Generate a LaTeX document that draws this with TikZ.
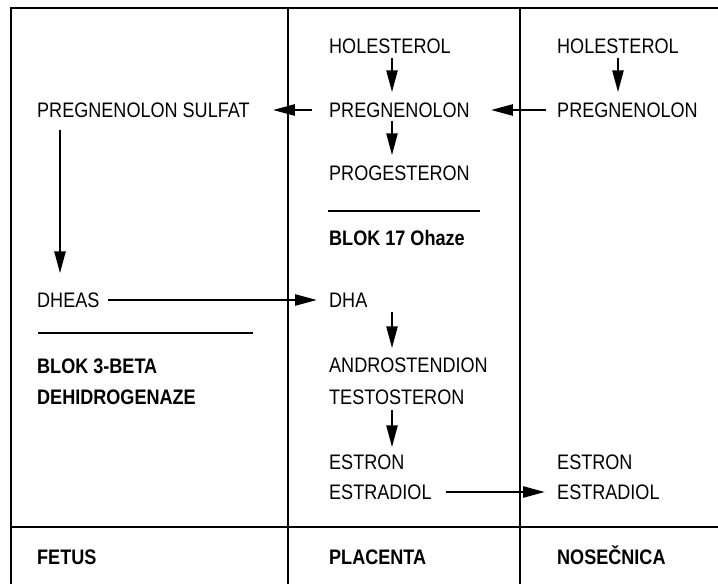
\documentclass[tikz,border=0pt]{standalone}
\usepackage{fontspec}
\setmainfont{Liberation Sans}[FakeStretch=0.86]
\usetikzlibrary{arrows.meta}

\begin{document}
\begin{tikzpicture}[x=1pt, y=-1pt,
    txt/.style={anchor=west, inner sep=0pt, text height=15pt, text depth=0pt, font=\fontsize{21}{25}\selectfont},
    bold/.style={txt, font=\fontsize{21}{25}\selectfont\bfseries},
    arr/.style={-{Triangle[length=22pt, width=11pt]}, line width=2.5pt},
    thin/.style={line width=1.3pt},
    ]

        \useasboundingbox (0,0) rectangle (718,584);

        % Frame
        \draw[thin] (718,8) -- (11,8) -- (11,584);
        \draw[thin] (288,8) -- (288,584);
        \draw[line width=2.6pt] (520,8) -- (520,584);
        \draw[thin] (11,527) -- (718,527);

        % Placenta
        \node[txt] (hol1) at (329,46) {HOLESTEROL};
        \node[txt] (preg1) at (329,110) {PREGNENOLON};
        \node[txt] (prog) at (329,173) {PROGESTERON};
        \draw[line width=2.2pt] (328,211) -- (480,211);
        \node[bold] (blok17) at (329,238) {BLOK 17 Ohaze};
        \node[txt] (dha) at (329,300) {DHA};
        \node[txt] (andro) at (329,365) {ANDROSTENDION};
        \node[txt] (testo) at (329,397) {TESTOSTERON};
        \node[txt] (estron1) at (329,462) {ESTRON};
        \node[txt] (estrad1) at (329,492) {ESTRADIOL};

        % Nosecnica
        \node[txt] (hol2) at (557,46) {HOLESTEROL};
        \node[txt] (preg2) at (557,110) {PREGNENOLON};
        \node[txt] (estron2) at (557,462) {ESTRON};
        \node[txt] (estrad2) at (557,492) {ESTRADIOL};

        % Fetus
        \node[txt] (sulf) at (37,110) {PREGNENOLON SULFAT};
        \node[txt] (dheas) at (37,300) {DHEAS};
        \draw[line width=2.2pt] (38,333) -- (253,333);
        \node[bold] (blok3) at (37,366) {BLOK 3-BETA};
        \node[bold] (dehidro) at (37,397) {DEHIDROGENAZE};

        % Column titles
        \node[bold] (fetus) at (37,557) {FETUS};
        \node[bold] (placenta) at (329,557) {PLACENTA};
        \node[bold] (nosecnica) at (557,557) {NOSEČNICA};

        % Arrows
        \draw[arr, shorten <=4pt, shorten >=10pt] ([xshift=63pt]hol1.south west) -- ([xshift=63pt]preg1.north west);
        \draw[arr, shorten <=3pt, shorten >=10pt] ([xshift=63pt]preg1.south west) -- ([xshift=63pt]prog.north west);
        \draw[arr, shorten <=4pt, shorten >=10pt] ([xshift=61pt]hol2.south west) -- ([xshift=61pt]preg2.north west);
        \draw[arr, shorten <=11pt, shorten >=21pt] (preg2.west) -- (preg1.east);
        \draw[arr, shorten <=17pt, shorten >=23pt] (preg1.west) -- (sulf.east);
        \draw[arr, shorten <=12pt, shorten >=19pt] ([xshift=23pt]sulf.south west) -- ([xshift=23pt]dheas.north west);
        \draw[arr, shorten <=8pt, shorten >=12pt] (dheas.east) -- (dha.west);
        \draw[arr, shorten <=4pt, shorten >=9pt] ([xshift=63pt]dha.south west) -- ([xshift=63pt]andro.north west);
        \draw[arr, shorten <=5pt, shorten >=7pt] ([xshift=63pt]testo.south west) -- ([xshift=63pt]estron1.north west);
        \draw[arr, shorten <=14pt, shorten >=12pt] (estrad1.east) -- (estrad2.west);

\end{tikzpicture}
\end{document}
